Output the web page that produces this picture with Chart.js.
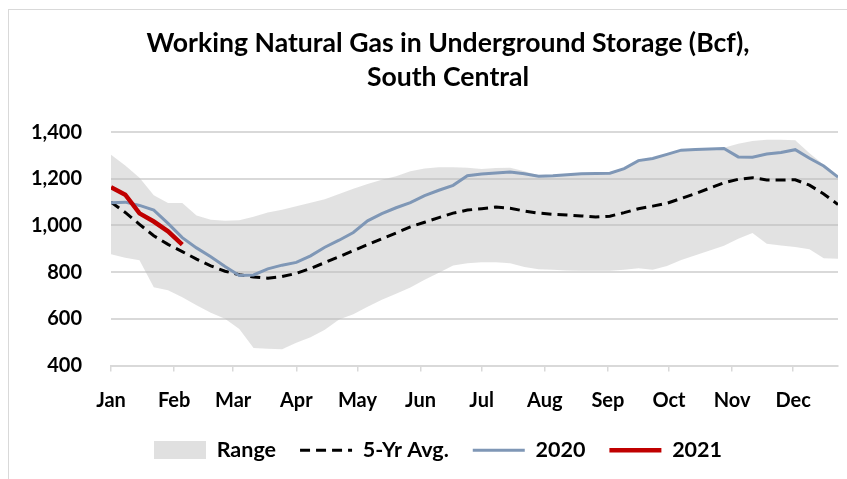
<!DOCTYPE html>
<html><head><meta charset="utf-8">
<script src="https://cdn.jsdelivr.net/npm/chart.js@4.4.0/dist/chart.umd.min.js"></script>
<style>
html,body{margin:0;padding:0;background:#fff;overflow:hidden;}
#wrap{position:absolute;left:0;top:0;width:847px;height:479px;overflow:hidden;}
#frame{position:absolute;left:8px;top:9px;width:900px;height:520px;border-left:1px solid #d9d9d9;border-top:1px solid #d9d9d9;}
canvas{position:absolute;left:0;top:0;}
</style></head><body>
<div id="wrap"><div id="frame"></div><canvas id="c" width="847" height="479"></canvas></div>
<script>
const titleLines = ['Working Natural Gas in Underground Storage (Bcf),', 'South Central'];
const monthLabels = ['Jan','Feb','Mar','Apr','May','Jun','Jul','Aug','Sep','Oct','Nov','Dec'];
const monthStartDays = [0,31,60,91,121,152,182,213,244,274,305,335];
const weekDays = [0,7,14,21,28,35,42,49,56,63,70,77,84,91,98,105,112,119,126,133,140,147,154,161,168,175,182,189,196,203,210,217,224,231,238,245,252,259,266,273,280,287,294,301,308,315,322,329,336,343,350,357];
const yTicks = [400,600,800,1000,1200,1400];

const rangeMax = [1303,1257,1205,1130,1096,1096,1043,1025,1020,1023,1038,1056,1068,1082,1098,1112,1135,1158,1178,1196,1211,1232,1244,1250,1250,1247,1242,1246,1248,1232,1214,1215,1219,1223,1224,1226,1246,1280,1289,1307,1325,1328,1330,1333,1350,1362,1367,1368,1365,1310,1260,1210];
const rangeMin = [877,862,851,735,722,692,658,626,600,556,475,472,470,498,521,553,597,620,652,682,707,734,767,798,829,838,843,843,838,822,813,810,807,806,806,806,810,817,810,826,852,873,893,913,943,968,922,914,908,898,860,857];
const avg5 = [1100,1056,1005,956,919,888,856,827,804,789,779,774,781,795,816,841,866,892,918,943,968,994,1014,1034,1053,1066,1072,1079,1074,1062,1053,1048,1045,1041,1036,1040,1055,1072,1083,1095,1116,1137,1160,1183,1198,1205,1195,1195,1196,1173,1135,1090];
const y2020 = [1097,1100,1086,1066,1009,948,904,866,824,786,788,814,830,842,870,907,937,970,1020,1051,1076,1098,1128,1151,1172,1213,1221,1225,1229,1222,1211,1213,1217,1222,1223,1224,1244,1278,1287,1305,1323,1326,1328,1330,1294,1293,1306,1313,1325,1288,1255,1207];
const y2021 = [1164,1132,1052,1017,975,918];

const FONT = 'Lato, "Open Sans", sans-serif';
const bandColor = 'rgba(185,185,185,0.42)';
const swatch = document.createElement('canvas');
swatch.width = 52; swatch.height = 18;
(function(){ const g = swatch.getContext('2d'); g.fillStyle = '#e0e0e0'; g.fillRect(0,0,52,18); })();

const pts = arr => arr.map((v,i) => ({x: weekDays[i], y: v}));

// horizontal centring of title and legend as in the reference
const shiftBoxes = {
  id: 'shiftBoxes',
  afterLayout(chart) {
    if (chart.titleBlock) chart.titleBlock.left = 58;
    if (chart.legend) chart.legend.left = 38;
  }
};

new Chart(document.getElementById('c'), {
  type: 'line',
  plugins: [shiftBoxes],
  data: {
    datasets: [
      {label:'2021', data: pts(y2021), borderColor:'#c00000', borderWidth:4.5, pointRadius:0, fill:false, tension:0},
      {label:'2020', data: pts(y2020), borderColor:'#7f97b6', borderWidth:3, pointRadius:0, fill:false, tension:0},
      {label:'5-Yr Avg.', data: pts(avg5), borderColor:'#000000', borderWidth:3, borderDash:[10,6], pointRadius:0, fill:false, tension:0},
      {label:'Range', data: pts(rangeMax), borderColor:'rgba(0,0,0,0)', borderWidth:0, backgroundColor: bandColor, pointRadius:0, fill:'+1', tension:0},
      {label:'Range min', data: pts(rangeMin), borderColor:'rgba(0,0,0,0)', borderWidth:0, pointRadius:0, fill:false, tension:0}
    ]
  },
  options: {
    responsive:false, animation:false, devicePixelRatio:1,
    layout:{padding:{left:0, right:9, top:0, bottom:8}},
    plugins:{
      filler:{drawTime:'beforeDatasetsDraw'},
      tooltip:{enabled:false},
      title:{display:true, text:titleLines, color:'#000', font:{family:FONT, weight:'bold', size:26.6, lineHeight:1.3}, padding:{top:26, bottom:37}},
      legend:{position:'bottom', labels:{
        usePointStyle:true, pointStyleWidth:52, boxHeight:18, padding:24, color:'#000',
        font:{family:FONT, weight:'bold', size:21.5},
        generateLabels: () => [
          {text:'Range', pointStyle: swatch, fillStyle:'#e0e0e0', strokeStyle:'rgba(0,0,0,0)', lineWidth:0, hidden:false, datasetIndex:3},
          {text:'5-Yr Avg.', pointStyle:'line', fillStyle:'#000', strokeStyle:'#000', lineWidth:3, lineDash:[10,6], hidden:false, datasetIndex:2},
          {text:'2020', pointStyle:'line', fillStyle:'#7f97b6', strokeStyle:'#7f97b6', lineWidth:3, hidden:false, datasetIndex:1},
          {text:'2021', pointStyle:'line', fillStyle:'#c00000', strokeStyle:'#c00000', lineWidth:4.5, hidden:false, datasetIndex:0}
        ]
      }}
    },
    scales:{
      x:{type:'linear', min:0, max:357,
        afterBuildTicks: s => { s.ticks = monthStartDays.map(v => ({value:v})); },
        afterFit: s => { s.height = 50; },
        ticks:{autoSkip:false, maxRotation:0, color:'#000', padding:17, font:{family:FONT, weight:'bold', size:20},
          callback:(v,i) => monthLabels[i]},
        grid:{drawOnChartArea:false, drawTicks:true, tickLength:6, color:'#d9d9d9', lineWidth:1.5},
        border:{display:true, color:'#d9d9d9', width:2}
      },
      y:{min:400, max:1400,
        afterBuildTicks: s => { s.ticks = yTicks.map(v => ({value:v})); },
        afterFit: s => { s.width = 111; },
        ticks:{color:'#000', padding:29, font:{family:FONT, weight:'bold', size:20},
          callback: v => v.toLocaleString('en-US')},
        grid:{color:'#d9d9d9', lineWidth:2, drawTicks:false},
        border:{display:false}
      }
    }
  }
});
</script>
</body></html>
